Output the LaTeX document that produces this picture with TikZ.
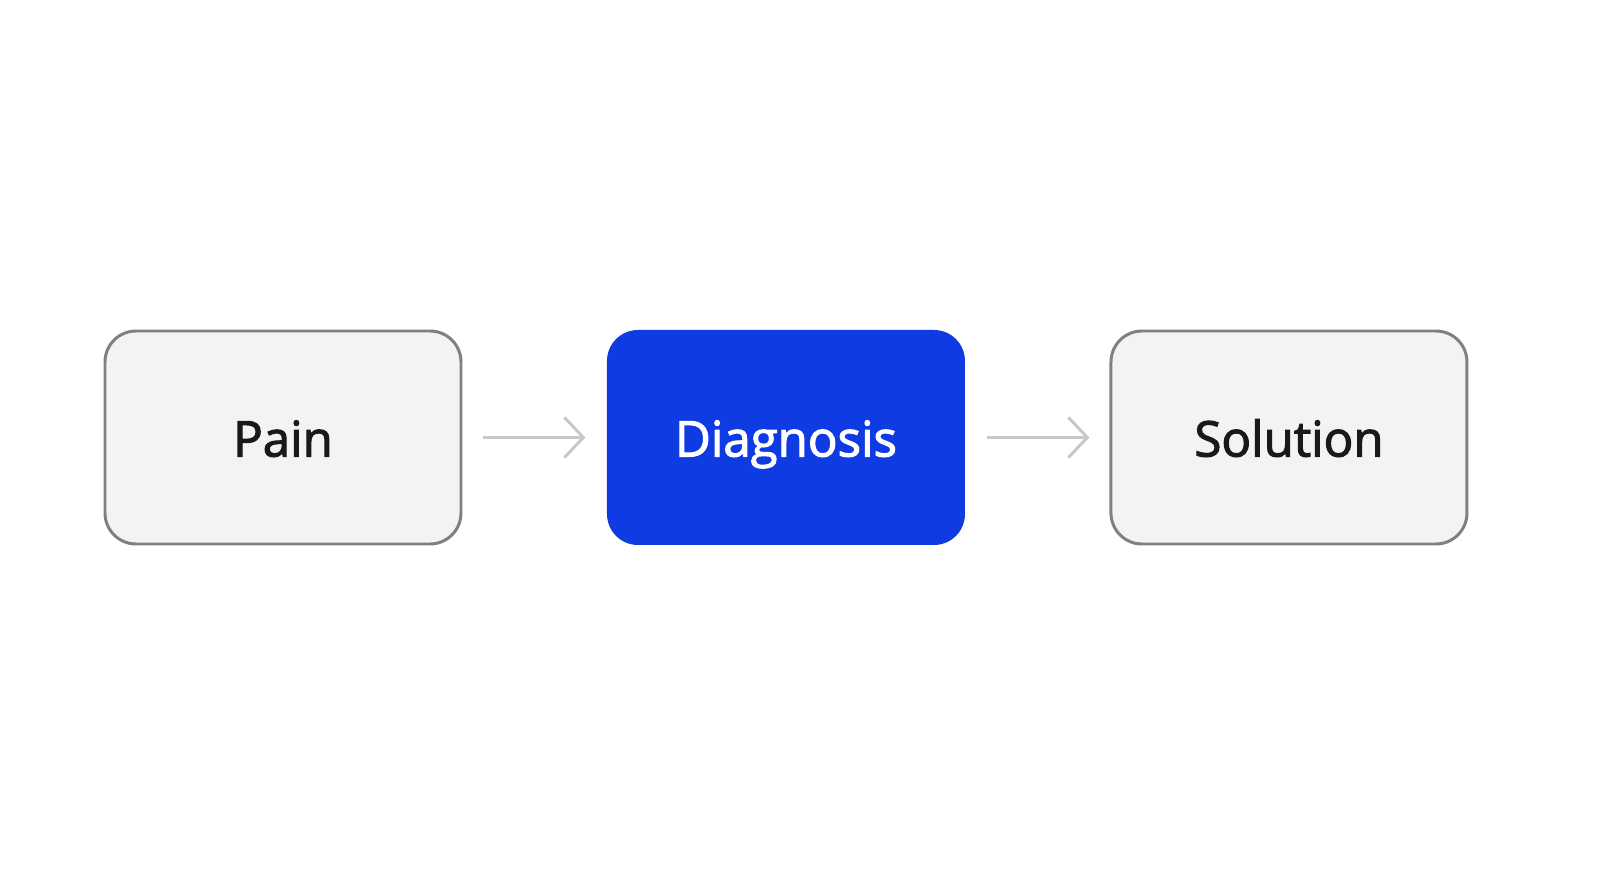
\documentclass[tikz,border=0pt]{standalone}
\usepackage{fontspec}
\setmainfont{Open Sans}
\newfontfamily\stagefont{Open Sans}[FakeBold=2.2]
\usetikzlibrary{arrows.meta, positioning}
\definecolor{boxgrey}{HTML}{F3F3F3}
\definecolor{linegrey}{HTML}{808080}
\definecolor{arrowgrey}{HTML}{C8C8C8}
\definecolor{diagblue}{HTML}{0F3BE3}
\tikzset{
  stage/.style={rectangle, rounded corners=0.62cm, minimum width=7.12cm, minimum height=4.26cm, font=\stagefont\fontsize{28}{34}\selectfont, text height=0.76cm, text depth=0pt, text=black!90, fill=boxgrey, draw=linegrey, line width=1.7pt},
  focus/.style={stage, fill=diagblue, draw=none, text=white, minimum width=7.16cm, minimum height=4.3cm},
  flow/.style={draw=arrowgrey, line width=1.7pt, -{Straight Barb[length=0.38cm, width=0.8cm, line width=1.7pt]}, shorten <=0.42cm, shorten >=0.4cm}
}
\begin{document}
\begin{tikzpicture}
    \useasboundingbox (0, 0) rectangle (32, 17.86);
    \node[stage] (pain) at (5.66, 9.11) {Pain};
    \node[focus, right=2.86cm of pain] (diagnosis) {Diagnosis};
    \node[stage, right=2.86cm of diagnosis] (solution) {Solution};
    \draw[flow] (pain) -- (diagnosis);
    \draw[flow] (diagnosis) -- (solution);
\end{tikzpicture}
\end{document}
